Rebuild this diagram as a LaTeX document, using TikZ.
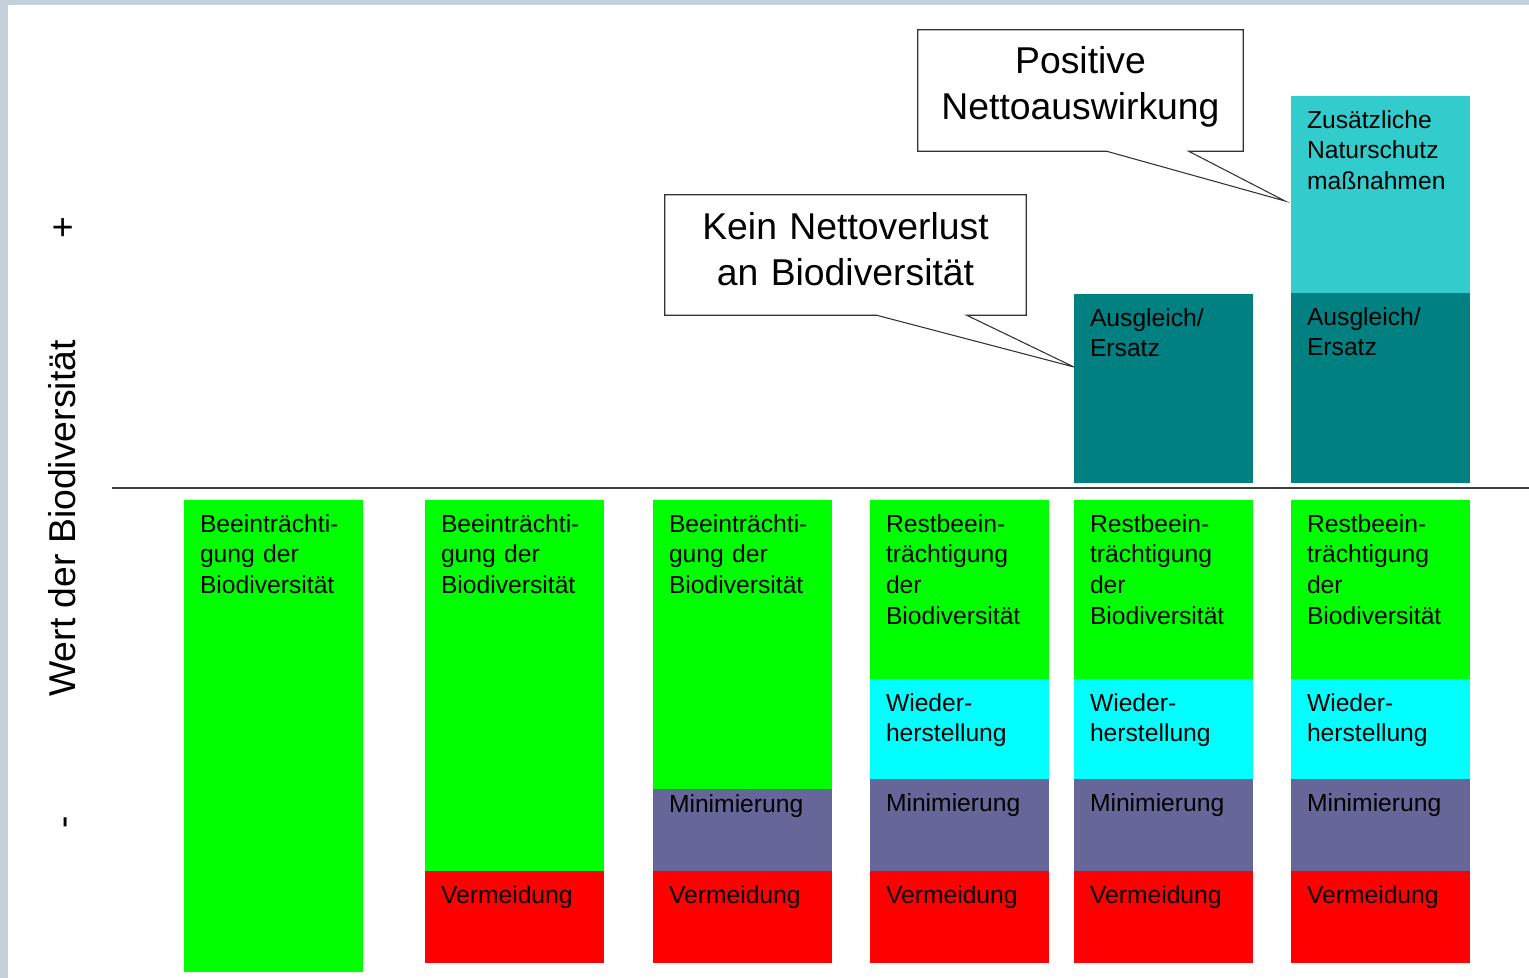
\documentclass[tikz,border=0pt]{standalone}
\usepackage{fontspec}
\setmainfont{Liberation Sans}
\usetikzlibrary{positioning}

\definecolor{gruen}{HTML}{00FF00}
\definecolor{rot}{HTML}{FF0000}
\definecolor{lila}{HTML}{666699}
\definecolor{tuerkis}{HTML}{00FFFF}
\definecolor{petrol}{HTML}{008080}
\definecolor{hellpetrol}{HTML}{33CCCC}
\definecolor{rahmen}{HTML}{C6D0D8}

\begin{document}
\begin{tikzpicture}[x=0.75pt, y=-0.75pt, node distance=0pt,
        seg/.style 2 args={fill=#1, anchor=north west, inner xsep=12pt, inner ysep=0pt, outer sep=0pt,
            text width=110.25pt, align=left, font=\fontsize{18.5}{23}\selectfont,
            text height=24pt, text depth={#2*0.75pt-24pt}},
        note/.style={inner sep=0pt, align=center, font=\fontsize{28}{34.5}\selectfont, text depth=43.5pt},
        callout/.style={draw=black!80, line width=0.8pt},
        axis/.style={draw=black!75, line width=1.2pt},
        side/.style={rotate=90, anchor=base, font=\fontsize{28}{34}\selectfont}]
    \useasboundingbox[fill=white] (0,0) rectangle (1529,978);
    \fill[rahmen] (0,0) rectangle (8,978);
    \fill[rahmen] (0,0) rectangle (1529,5);

    \node[side] (wert) at (75,518.5) {Wert der Biodiversität};
    \node[side] (plus) at (75,228) {+};
    \node[side] (minus) at (75,822) {-};

    \coordinate (x0) at (112,488);
    \coordinate (x1) at (1529,488);
    \draw[axis] (x0) -- (x1);

    % Spalte 1
    \node[seg={gruen}{472}] (B1) at (184,500) {Beeinträchti-\\gung der\\Biodiversität};
    % Spalte 2
    \node[seg={gruen}{371}] (B2) at (425,500) {Beeinträchti-\\gung der\\Biodiversität};
    \node[seg={rot}{92}, below=of B2] (V2) {Vermeidung};
    % Spalte 3
    \node[seg={gruen}{289}] (B3) at (653,500) {Beeinträchti-\\gung der\\Biodiversität};
    \node[seg={lila}{82}, below=of B3, text height=17.5pt, text depth=44pt] (M3) {Minimierung};
    \node[seg={rot}{92}, below=of M3] (V3) {Vermeidung};
    % Spalte 4
    \node[seg={gruen}{179}] (R4) at (870,500) {Restbeein-\\trächtigung\\der\\Biodiversität};
    \node[seg={tuerkis}{100}, below=of R4] (W4) {Wieder-\\herstellung};
    \node[seg={lila}{92}, below=of W4] (M4) {Minimierung};
    \node[seg={rot}{92}, below=of M4] (V4) {Vermeidung};
    % Spalte 5
    \node[seg={gruen}{179}] (R5) at (1074,500) {Restbeein-\\trächtigung\\der\\Biodiversität};
    \node[seg={tuerkis}{100}, below=of R5] (W5) {Wieder-\\herstellung};
    \node[seg={lila}{92}, below=of W5] (M5) {Minimierung};
    \node[seg={rot}{92}, below=of M5] (V5) {Vermeidung};
    \node[seg={petrol}{189}, anchor=south west] (A5) at (1074,483) {Ausgleich/\\Ersatz};
    % Spalte 6
    \node[seg={gruen}{179}] (R6) at (1291,500) {Restbeein-\\trächtigung\\der\\Biodiversität};
    \node[seg={tuerkis}{100}, below=of R6] (W6) {Wieder-\\herstellung};
    \node[seg={lila}{92}, below=of W6] (M6) {Minimierung};
    \node[seg={rot}{92}, below=of M6] (V6) {Vermeidung};
    \node[seg={petrol}{190}, anchor=south west] (A6) at (1291,483) {Ausgleich/\\Ersatz};
    \node[seg={hellpetrol}{197}, above=of A6] (Z6) {Zusätzliche\\Naturschutz\\maßnahmen};

    % Sprechblasen
    \node[note, text width=270.75pt, minimum height=90pt] (K) at (845.5,255) {Kein Nettoverlust\\an Biodiversität};
    \coordinate (kspitze) at (1074,367);
    \draw[callout] (K.south west) -- (K.north west) -- (K.north east) -- (K.south east)
        -- ([xshift=226.5pt]K.south west) -- (kspitze) -- ([xshift=159pt]K.south west) -- cycle;

    \node[note, text width=243.75pt, minimum height=90.75pt, text depth=46.5pt] (P) at (1080.5,90.5) {Positive\\Nettoauswirkung};
    \coordinate (pspitze) at (1285,201);
    \draw[callout] (P.south west) -- (P.north west) -- (P.north east) -- (P.south east)
        -- ([xshift=203.25pt]P.south west) -- (pspitze) -- ([xshift=141.75pt]P.south west) -- cycle;
\end{tikzpicture}
\end{document}
